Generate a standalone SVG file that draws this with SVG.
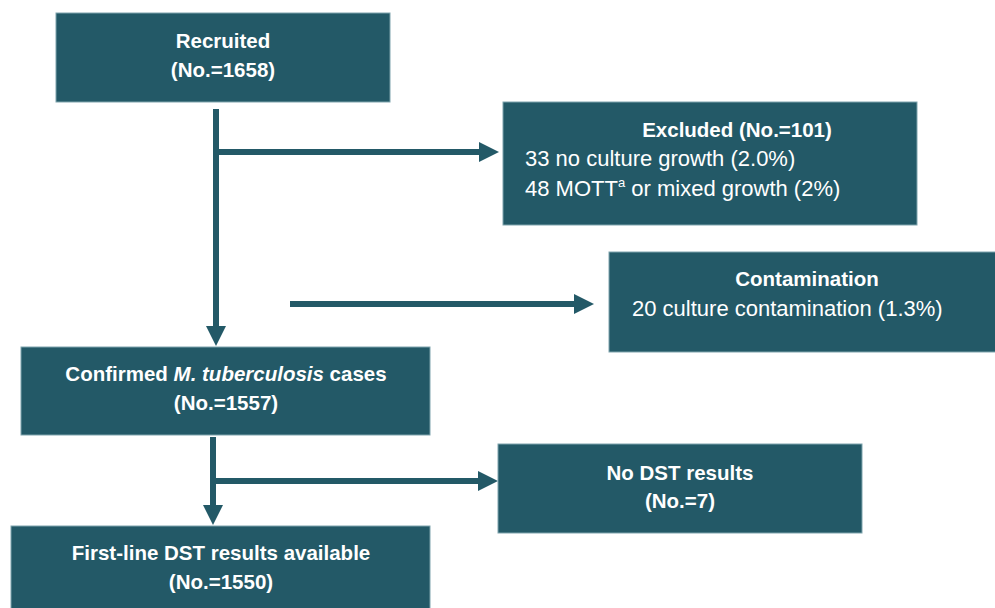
<svg xmlns="http://www.w3.org/2000/svg" width="995" height="608" viewBox="0 0 995 608">
<style>
.box{fill:#235967;stroke:#7fa4ad;stroke-width:1}
.t{font-family:"Liberation Sans",Arial,sans-serif;fill:#ffffff}
.b{font-weight:bold;font-size:20.5px}
.r{font-size:22px}
.c{text-anchor:middle}
.ln{stroke:#235967;stroke-width:6;fill:none}
</style>
<defs>
<marker id="ah" markerUnits="userSpaceOnUse" markerWidth="20" markerHeight="20" refX="2" refY="10" orient="auto">
<path d="M0,0 L20,10 L0,20 z" fill="#235967"/>
</marker>
</defs>
<rect width="995" height="608" fill="#ffffff"/>
<g id="connectors">
<path class="ln" d="M216,109 V328" marker-end="url(#ah)"/>
<path class="ln" d="M216,152 H481" marker-end="url(#ah)"/>
<path class="ln" d="M290,304 H576" marker-end="url(#ah)"/>
<path class="ln" d="M213,437 V507" marker-end="url(#ah)"/>
<path class="ln" d="M213,481 H480" marker-end="url(#ah)"/>
</g>
<g id="recruited">
<rect class="box" x="56" y="13" width="334" height="89"/>
<text class="t b c" x="223" y="48">Recruited</text>
<text class="t b c" x="223" y="77">(No.=1658)</text>
</g>
<g id="excluded">
<rect class="box" x="503" y="102" width="414" height="123"/>
<text class="t b c" x="737" y="137">Excluded (No.=101)</text>
<text class="t r" x="525" y="166">33 no culture growth (2.0%)</text>
<text class="t r" x="525" y="196">48 MOTT<tspan font-size="13" dy="-9">a</tspan><tspan dy="9"> or mixed growth (2%)</tspan></text>
</g>
<g id="contamination">
<rect class="box" x="609" y="252" width="400" height="100"/>
<text class="t b c" x="807" y="286">Contamination</text>
<text class="t r" x="632" y="316">20 culture contamination (1.3%)</text>
</g>
<g id="confirmed">
<rect class="box" x="21" y="347" width="409" height="88"/>
<text class="t b c" x="226" y="381">Confirmed <tspan font-style="italic">M. tuberculosis</tspan> cases</text>
<text class="t b c" x="226" y="410">(No.=1557)</text>
</g>
<g id="nodst">
<rect class="box" x="498" y="444" width="364" height="89"/>
<text class="t b c" x="680" y="480">No DST results</text>
<text class="t b c" x="680" y="508">(No.=7)</text>
</g>
<g id="firstline">
<rect class="box" x="11" y="526" width="419" height="90"/>
<text class="t b c" x="221" y="560">First-line DST results available</text>
<text class="t b c" x="221" y="589">(No.=1550)</text>
</g>
</svg>
